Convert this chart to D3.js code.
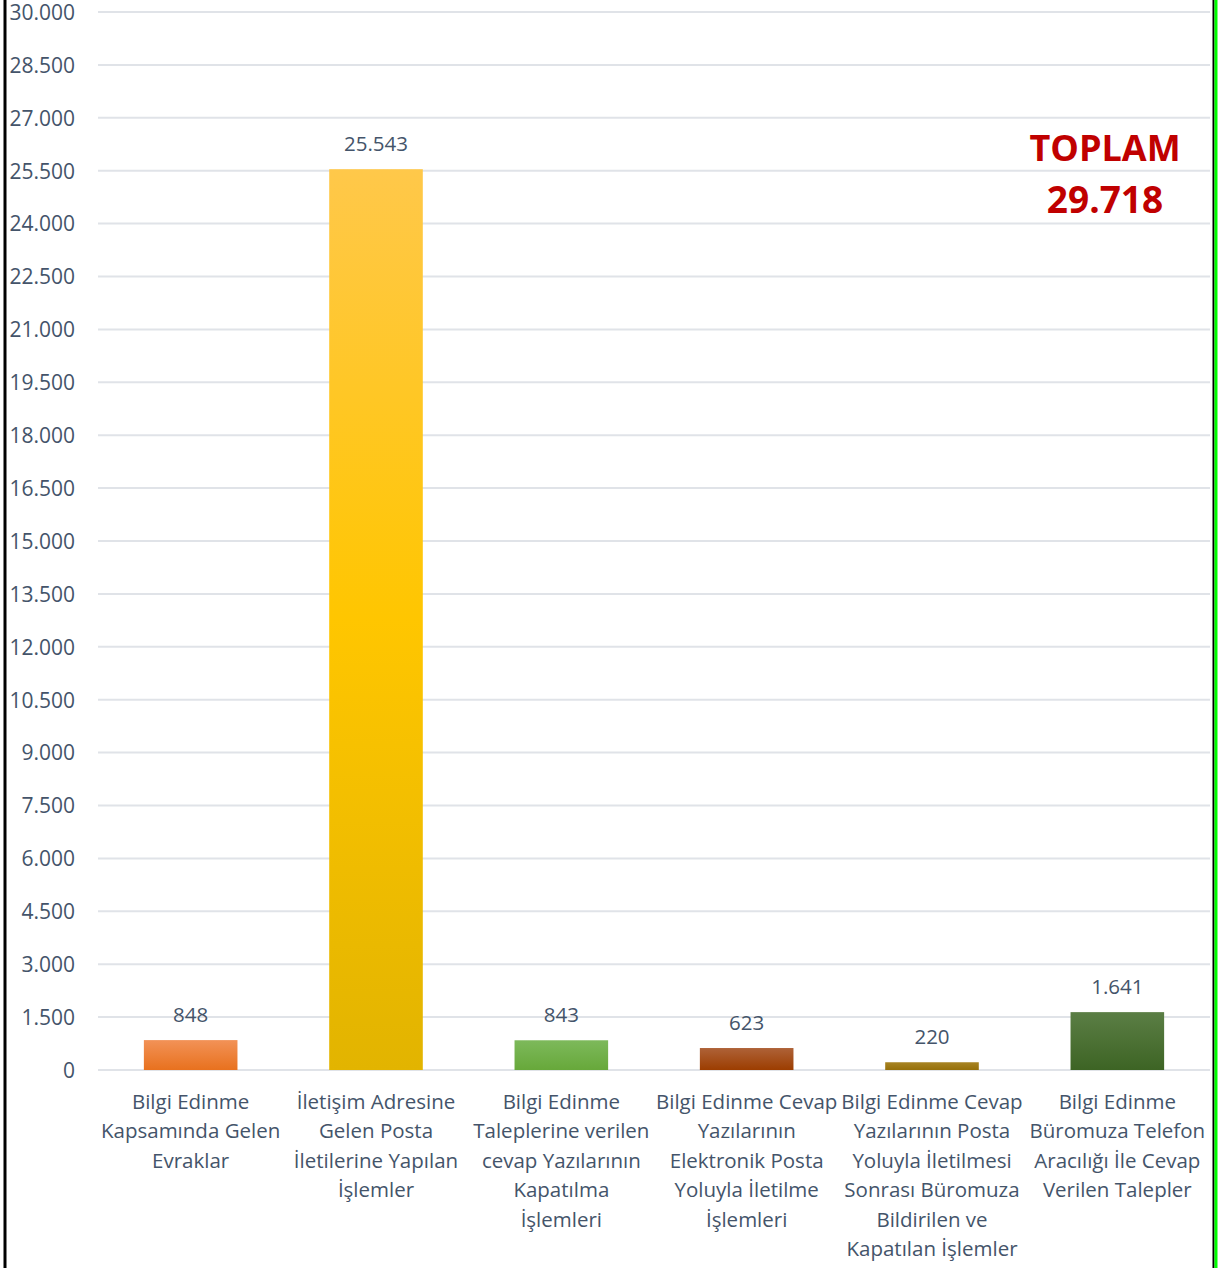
<!DOCTYPE html>
<html><head><meta charset="utf-8">
<script src="https://cdn.jsdelivr.net/npm/d3@7"></script>
<style>html,body{margin:0;padding:0;background:#fff;overflow:hidden}svg{display:block}</style>
</head><body>
<svg id="c" width="1223" height="1268"></svg>
<script>
const categories = [
  ["Bilgi Edinme","Kapsamında Gelen","Evraklar"],
  ["İletişim Adresine","Gelen Posta","İletilerine Yapılan","İşlemler"],
  ["Bilgi Edinme","Taleplerine verilen","cevap Yazılarının","Kapatılma","İşlemleri"],
  ["Bilgi Edinme Cevap","Yazılarının","Elektronik Posta","Yoluyla İletilme","İşlemleri"],
  ["Bilgi Edinme Cevap","Yazılarının Posta","Yoluyla İletilmesi","Sonrası Büromuza","Bildirilen ve","Kapatılan İşlemler"],
  ["Bilgi Edinme","Büromuza Telefon","Aracılığı İle Cevap","Verilen Talepler"]
];
const values = [848, 25543, 843, 623, 220, 1641];
const valueLabels = ["848","25.543","843","623","220","1.641"];
const barColors = [
  ["#F29257","#E8711E"],
  ["#FFC84A","#FFC600","#E2B400"],
  ["#7DB95B","#67A83A"],
  ["#AE6238","#9C3D00"],
  ["#A88424","#96700A"],
  ["#5B7E45","#3D6424"]
];
const yTicks = d3.range(0, 30001, 1500);
const totalLabel = ["TOPLAM","29.718"];

const svg = d3.select("#c");
const font = "'Open Sans', sans-serif";
const textCol = "#44546A";
const x0 = 98, x1 = 1210, yTop = 12, yBot = 1070;

const x = d3.scaleBand().domain(d3.range(categories.length)).range([x0, x1]).padding(0);
const y = d3.scaleLinear().domain([0, 30000]).range([yBot, yTop]);

const defs = svg.append("defs");
barColors.forEach((cols, i) => {
  const g = defs.append("linearGradient").attr("id", "g" + i)
    .attr("x1", 0).attr("y1", 0).attr("x2", 0).attr("y2", 1);
  cols.forEach((c, j) => g.append("stop").attr("offset", j / (cols.length - 1)).attr("stop-color", c));
});

svg.append("g").selectAll("line").data(yTicks).join("line")
  .attr("x1", x0).attr("x2", x1)
  .attr("y1", d => y(d)).attr("y2", d => y(d))
  .attr("stroke", "#E0E3E8").attr("stroke-width", 2);

const yAxis = d3.axisLeft(y).tickValues(yTicks).tickSize(0).tickPadding(0)
  .tickFormat(d => d3.format(",")(d).replace(/,/g, "."));
const ya = svg.append("g").attr("transform", "translate(75,0)").call(yAxis);
ya.select(".domain").remove();
ya.selectAll("text").attr("font-family", font).attr("font-size", 21).attr("fill", textCol).attr("dy", "0.35em");

const bw = x.bandwidth() * 0.505;
svg.append("g").selectAll("rect").data(values).join("rect")
  .attr("x", (d, i) => x(i) + (x.bandwidth() - bw) / 2)
  .attr("width", bw)
  .attr("y", d => y(d))
  .attr("height", d => y(0) - y(d))
  .attr("fill", (d, i) => `url(#g${i})`);

svg.append("g").selectAll("text").data(values).join("text")
  .attr("x", (d, i) => x(i) + x.bandwidth() / 2)
  .attr("y", d => y(d) - 18)
  .attr("text-anchor", "middle")
  .attr("font-family", font).attr("font-size", 20.5).attr("fill", textCol)
  .text((d, i) => valueLabels[i]);

const cl = svg.append("g");
categories.forEach((lines, i) => {
  const t = cl.append("text").attr("text-anchor", "middle")
    .attr("font-family", font).attr("font-size", 20.5).attr("fill", textCol);
  lines.forEach((ln, j) => {
    t.append("tspan").attr("x", x(i) + x.bandwidth() / 2).attr("y", 1109 + j * 29.4).text(ln);
  });
});

svg.append("text").attr("x", 1105).attr("y", 161).attr("text-anchor", "middle")
  .attr("font-family", font).attr("font-weight", 700).attr("font-size", 36).attr("fill", "#C00000")
  .text(totalLabel[0]);
svg.append("text").attr("x", 1105).attr("y", 213).attr("text-anchor", "middle")
  .attr("font-family", font).attr("font-weight", 700).attr("font-size", 37).attr("fill", "#C00000")
  .text(totalLabel[1]);

svg.append("line").attr("x1", 5).attr("x2", 5).attr("y1", 0).attr("y2", 1268).attr("stroke", "#000").attr("stroke-width", 3);
svg.append("line").attr("x1", 1213.5).attr("x2", 1213.5).attr("y1", 0).attr("y2", 1268).attr("stroke", "#000").attr("stroke-width", 2);
svg.append("line").attr("x1", 1216).attr("x2", 1216).attr("y1", 0).attr("y2", 1268).attr("stroke", "#00FF00").attr("stroke-width", 3);
</script>
</body></html>
